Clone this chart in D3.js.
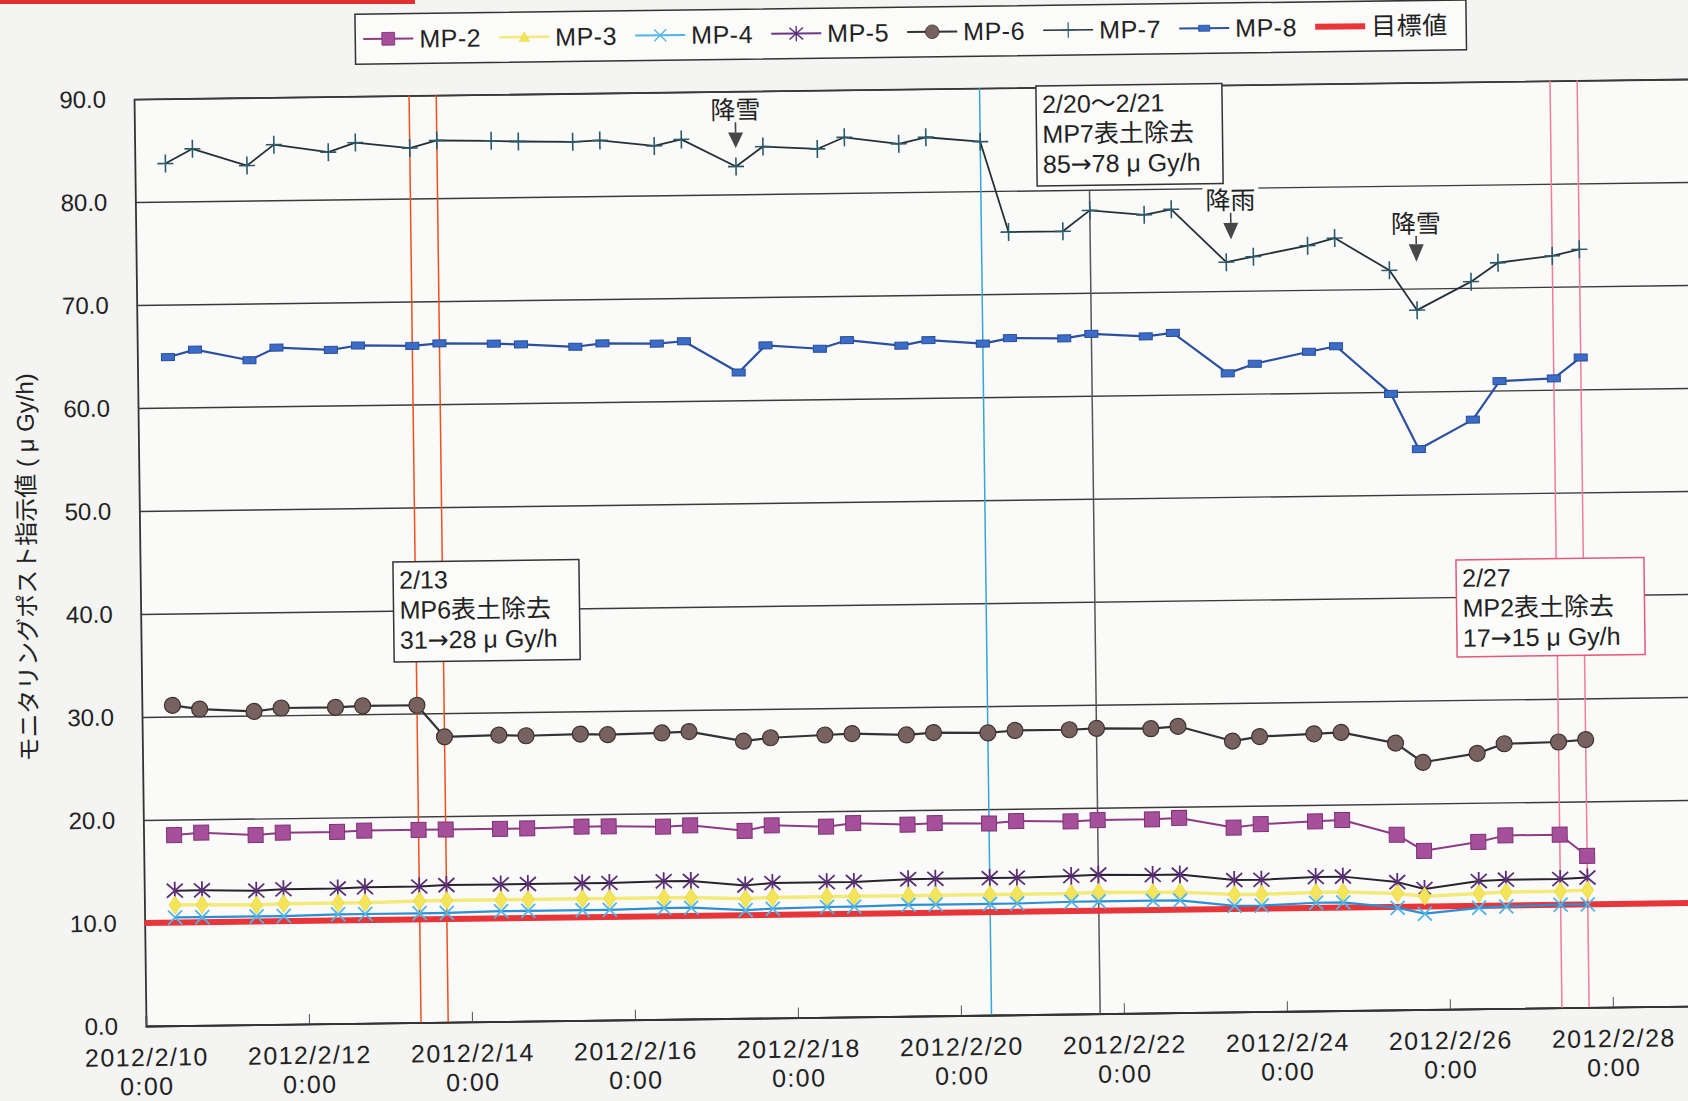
<!DOCTYPE html>
<html>
<head>
<meta charset="utf-8">
<script src="https://cdn.jsdelivr.net/npm/d3@7"></script>
<style>
  body { margin: 0; background: #f4f4f2; }
  text { font-family: "Liberation Sans", "Noto Sans CJK JP", sans-serif; fill: #222; }
</style>
</head>
<body>
<div id="viz"></div>
<script>
// measurement times (two readings a day)
const times = [
  "2012-02-10 09:00", "2012-02-10 17:00", "2012-02-11 09:00", "2012-02-11 17:00",
  "2012-02-12 09:00", "2012-02-12 17:00", "2012-02-13 09:00", "2012-02-13 17:00",
  "2012-02-14 09:00", "2012-02-14 17:00", "2012-02-15 09:00", "2012-02-15 17:00",
  "2012-02-16 09:00", "2012-02-16 17:00", "2012-02-17 09:00", "2012-02-17 17:00",
  "2012-02-18 09:00", "2012-02-18 17:00", "2012-02-19 09:00", "2012-02-19 17:00",
  "2012-02-20 09:00", "2012-02-20 17:00", "2012-02-21 09:00", "2012-02-21 17:00",
  "2012-02-22 09:00", "2012-02-22 17:00", "2012-02-23 09:00", "2012-02-23 17:00",
  "2012-02-24 09:00", "2012-02-24 17:00", "2012-02-25 09:00", "2012-02-25 17:00",
  "2012-02-26 09:00", "2012-02-26 17:00", "2012-02-27 09:00", "2012-02-27 17:00"
];

const mp2 = [18.5, 18.7, 18.4, 18.6, 18.6, 18.7, 18.7, 18.7, 18.7, 18.7, 18.8, 18.8,
             18.7, 18.8, 18.2, 18.7, 18.5, 18.8, 18.6, 18.7, 18.6, 18.8, 18.7, 18.8,
             18.8, 18.9, 17.9, 18.2, 18.4, 18.5, 17.0, 15.4, 16.2, 16.8, 16.8, 14.7];
const mp3 = [11.7, 11.7, 11.6, 11.7, 11.7, 11.7, 11.8, 11.8, 11.8, 11.8, 11.8, 11.8,
             11.8, 11.8, 11.6, 11.7, 11.7, 11.7, 11.7, 11.7, 11.7, 11.7, 11.7, 11.8,
             11.7, 11.7, 11.4, 11.4, 11.5, 11.5, 11.3, 11.0, 11.2, 11.3, 11.3, 11.4];
const mp4 = [10.5, 10.5, 10.5, 10.5, 10.6, 10.6, 10.6, 10.6, 10.7, 10.7, 10.7, 10.7,
             10.8, 10.8, 10.5, 10.6, 10.7, 10.7, 10.8, 10.8, 10.8, 10.8, 10.9, 10.9,
             10.9, 10.9, 10.3, 10.3, 10.5, 10.5, 9.9, 9.3, 9.8, 9.9, 10.0, 10.0];
const mp5 = [13.1, 13.1, 13.0, 13.1, 13.1, 13.2, 13.2, 13.3, 13.3, 13.3, 13.3, 13.3,
             13.4, 13.4, 12.9, 13.1, 13.1, 13.1, 13.3, 13.3, 13.3, 13.3, 13.4, 13.5,
             13.4, 13.4, 12.8, 12.8, 13.0, 13.0, 12.4, 11.7, 12.4, 12.5, 12.5, 12.6];
const mp6 = [31.1, 30.7, 30.4, 30.7, 30.7, 30.8, 30.8, 27.7, 27.8, 27.7, 27.8, 27.7,
             27.8, 27.9, 26.9, 27.2, 27.4, 27.5, 27.3, 27.5, 27.4, 27.6, 27.6, 27.7,
             27.6, 27.8, 26.3, 26.7, 26.9, 27.0, 25.9, 24.0, 24.8, 25.7, 25.8, 26.0];
const mp7 = [83.7, 85.1, 83.4, 85.4, 84.6, 85.5, 84.9, 85.6, 85.5, 85.4, 85.3, 85.4,
             84.8, 85.4, 82.7, 84.6, 84.3, 85.4, 84.7, 85.3, 84.8, 76.0, 76.0, 78.0,
             77.5, 78.0, 72.8, 73.3, 74.3, 75.0, 71.8, 67.9, 70.6, 72.4, 73.0, 73.6];
const mp8 = [64.9, 65.6, 64.5, 65.7, 65.4, 65.8, 65.7, 65.9, 65.8, 65.7, 65.4, 65.7,
             65.6, 65.8, 62.7, 65.3, 64.9, 65.7, 65.1, 65.6, 65.2, 65.7, 65.6, 66.0,
             65.7, 66.0, 62.0, 62.9, 64.0, 64.5, 59.8, 54.4, 57.2, 60.9, 61.1, 63.1];
const target = 10;

const yTicks = [0, 10, 20, 30, 40, 50, 60, 70, 80, 90];
const xTickDays = ["2012-02-10", "2012-02-12", "2012-02-14", "2012-02-16", "2012-02-18",
                   "2012-02-20", "2012-02-22", "2012-02-24", "2012-02-26", "2012-02-28"];

// event markers
const eventLines = [
  { t: "2012-02-13 09:00", color: "#f0501e" },
  { t: "2012-02-13 17:00", color: "#f0501e" },
  { t: "2012-02-20 09:00", color: "#35a6d6" },
  { t: "2012-02-21 17:00", color: "#555555", from: 80 },
  { t: "2012-02-27 09:00", color: "#f07c9c" },
  { t: "2012-02-27 17:00", color: "#f07c9c" }
];
const weatherNotes = [
  { t: "2012-02-17 09:00", label: "降雪", at: 88.2, tail: 87.0, base: 86.0, tip: 84.5, dx: 0 },
  { t: "2012-02-23 09:00", label: "降雨", at: 78.8, tail: 77.6, base: 76.6, tip: 75.0, dx: 5 },
  { t: "2012-02-25 17:00", label: "降雪", at: 76.3, tail: 75.1, base: 74.3, tip: 72.6, dx: 0 }
];
const boxNotes = [
  { t: "2012-02-13 02:28", v: 44.74, w: 186, h: 100, border: "#333",
    lines: ["2/13", "MP6表土除去", "31→28 μ Gy/h"] },
  { t: "2012-02-21 01:36", v: 90.14, w: 186, h: 100, border: "#333",
    lines: ["2/20～2/21", "MP7表土除去", "85→78 μ Gy/h"] },
  { t: "2012-02-26 03:29", v: 43.6, w: 188, h: 97, border: "#e4587a",
    lines: ["2/27", "MP2表土除去", "17→15 μ Gy/h"] }
];

document.addEventListener("DOMContentLoaded", () => {
  const width = 1688;
  const height = 1101;
  const parse = d3.timeParse("%Y-%m-%d %H:%M");
  const parseDay = d3.timeParse("%Y-%m-%d");
  const dates = times.map(parse);

  const svg = d3.select("#viz").append("svg")
    .attr("width", width)
    .attr("height", height);

  svg.append("rect").attr("width", width).attr("height", height).attr("fill", "#f4f4f2");
  // red rule at the top of the page
  svg.append("rect").attr("x", 0).attr("y", 0).attr("width", 415).attr("height", 4).attr("fill", "#e2302e");

  // the scan is tilted slightly
  const g = svg.append("g").attr("transform", "rotate(-0.74,146,1026)");

  const x = d3.scaleTime()
    .domain([new Date(2012, 1, 10), new Date(2012, 1, 29)])
    .range([146, 146 + 19 * 81.5]);
  const y = d3.scaleLinear().domain([0, 90]).range([1026, 99]);

  g.append("rect")
    .attr("x", 146).attr("y", y(90))
    .attr("width", 1600).attr("height", y(0) - y(90))
    .attr("fill", "#fafaf9");

  // y axis with grid
  const yAxis = g.append("g")
    .attr("transform", "translate(146,0)")
    .call(d3.axisLeft(y).tickValues(yTicks).tickFormat(d3.format(".1f"))
      .tickSize(-1600).tickPadding(28));
  yAxis.select(".domain").attr("stroke", "#333").attr("stroke-width", 1.8);
  yAxis.selectAll(".tick line").attr("stroke", "#3a3a3a").attr("stroke-width", 1.4);
  yAxis.selectAll(".tick text").attr("font-size", 24).attr("fill", "#222")
    .style("font-family", "'Liberation Sans', sans-serif");

  // x axis: date on one line, time under it
  const xAxis = g.append("g")
    .attr("transform", `translate(0,${y(0)})`)
    .call(d3.axisBottom(x).tickValues(xTickDays.map(parseDay))
      .tickFormat(d3.timeFormat("%Y/%-m/%-d")).tickSize(-10).tickPadding(0));
  xAxis.select(".domain").attr("stroke", "#333").attr("stroke-width", 1.8);
  xAxis.selectAll(".tick line").attr("stroke", "#555").attr("stroke-width", 1);
  xAxis.selectAll(".tick text")
    .attr("y", 40).attr("dy", null)
    .attr("font-size", 25).attr("fill", "#222").attr("letter-spacing", 1.4)
    .style("font-family", "'Liberation Sans', sans-serif");
  xAxis.selectAll(".tick").append("text")
    .attr("y", 69)
    .attr("text-anchor", "middle")
    .attr("font-size", 25).attr("fill", "#222").attr("letter-spacing", 1.4)
    .style("font-family", "'Liberation Sans', sans-serif")
    .text("0:00");

  g.append("text")
    .attr("transform", `translate(33,566) rotate(-90)`)
    .attr("text-anchor", "middle")
    .attr("dominant-baseline", "central")
    .attr("font-size", 24)
    .text("モニタリングポスト指示値 ( μ Gy/h)");

  // event vertical lines
  g.selectAll(".event")
    .data(eventLines)
    .enter()
    .append("line")
    .attr("x1", d => x(parse(d.t)))
    .attr("x2", d => x(parse(d.t)))
    .attr("y1", d => y(d.from || 90))
    .attr("y2", y(0))
    .attr("stroke", d => d.color)
    .attr("stroke-width", 1.5);

  // target value
  g.append("line")
    .attr("x1", 146).attr("x2", 1760)
    .attr("y1", y(target)).attr("y2", y(target))
    .attr("stroke", "#e8353a").attr("stroke-width", 6);

  // marker shapes
  const shapes = {
    square: { draw(c) { c.rect(-7.5, -7.5, 15, 15); } },
    diamond: { draw(c) { c.moveTo(0, -9); c.lineTo(6, 0); c.lineTo(0, 9); c.lineTo(-6, 0); c.closePath(); } },
    triangle: { draw(c) { c.moveTo(0, -6); c.lineTo(6, 5); c.lineTo(-6, 5); c.closePath(); } },
    cross: { draw(c) { c.moveTo(-7, -7); c.lineTo(7, 7); c.moveTo(-7, 7); c.lineTo(7, -7); } },
    star: { draw(c) { c.moveTo(-8, -7); c.lineTo(8, 7); c.moveTo(-8, 7); c.lineTo(8, -7); c.moveTo(0, -9); c.lineTo(0, 9); } },
    circle: { draw(c) { c.moveTo(8, 0); c.arc(0, 0, 8, 0, 2 * Math.PI); } },
    plus: { draw(c) { c.moveTo(-8, 0); c.lineTo(8, 0); c.moveTo(0, -9); c.lineTo(0, 9); } },
    flat: { draw(c) { c.rect(-6.5, -3.5, 13, 7); } }
  };

  const series = [
    { name: "MP-7", values: mp7, line: "#253038", lw: 1.8, shape: shapes.plus, fill: "none", stroke: "#2b5a6a", sw: 1.6 },
    { name: "MP-8", values: mp8, line: "#2c50a0", lw: 2.2, shape: shapes.flat, fill: "#3a6cc8", stroke: "#2a4c96", sw: 1 },
    { name: "MP-6", values: mp6, line: "#333333", lw: 2.2, shape: shapes.circle, fill: "#78625f", stroke: "#3d3232", sw: 1.2 },
    { name: "MP-2", values: mp2, line: "#8c3b84", lw: 2, shape: shapes.square, fill: "#a64f9b", stroke: "#7d3274", sw: 1 },
    { name: "MP-5", values: mp5, line: "#2b2230", lw: 2, shape: shapes.star, fill: "none", stroke: "#5b2e78", sw: 1.8 },
    { name: "MP-3", values: mp3, line: "#f3ea7a", lw: 3.5, shape: shapes.diamond, fill: "#f4e45a", stroke: "#e8d840", sw: 0.8 },
    { name: "MP-4", values: mp4, line: "#2c8ed6", lw: 2.2, shape: shapes.cross, fill: "none", stroke: "#52b5e6", sw: 1.8 }
  ];

  const line = d3.line().x((d, i) => x(dates[i])).y(d => y(d));

  series.forEach(s => {
    g.append("path")
      .attr("d", line(s.values))
      .attr("fill", "none")
      .attr("stroke", s.line)
      .attr("stroke-width", s.lw)
      .attr("stroke-linejoin", "round");
    g.selectAll(null)
      .data(s.values)
      .enter()
      .append("path")
      .attr("transform", (d, i) => `translate(${x(dates[i])},${y(d)})`)
      .attr("d", d3.symbol().type(s.shape)())
      .attr("fill", s.fill)
      .attr("stroke", s.stroke)
      .attr("stroke-width", s.sw);
  });

  // weather notes with arrows
  weatherNotes.forEach(n => {
    const cx = x(parse(n.t)) + n.dx;
    g.append("rect")
      .attr("x", cx - 28).attr("y", y(n.at) - 15)
      .attr("width", 56).attr("height", 30)
      .attr("fill", "#fafaf9");
    g.append("text")
      .attr("x", cx).attr("y", y(n.at))
      .attr("text-anchor", "middle")
      .attr("dominant-baseline", "central")
      .attr("font-size", 25)
      .text(n.label);
    g.append("line")
      .attr("x1", cx).attr("x2", cx)
      .attr("y1", y(n.tail)).attr("y2", y(n.base))
      .attr("stroke", "#444").attr("stroke-width", 1.6);
    g.append("path")
      .attr("d", `M${cx - 7.5},${y(n.base)}L${cx + 7.5},${y(n.base)}L${cx},${y(n.tip)}Z`)
      .attr("fill", "#474747");
  });

  // removal notes (one text block per box)
  boxNotes.forEach(b => {
    const bx = x(parse(b.t));
    const by = y(b.v);
    g.append("rect")
      .attr("x", bx).attr("y", by)
      .attr("width", b.w).attr("height", b.h)
      .attr("fill", "#fbfbfa")
      .attr("stroke", b.border)
      .attr("stroke-width", 1.5);
    const t = g.append("text").attr("font-size", 25);
    b.lines.forEach((l, i) => {
      const row = t.append("tspan").attr("x", bx + 6).attr("y", by + 27 + i * 30);
      l.split("→").forEach((part, k) => {
        if (k > 0) row.append("tspan").style("font-family", "'DejaVu Sans'").text("→");
        row.append("tspan").text(part);
      });
    });
  });

  // legend
  const legendItems = [
    { name: "MP-2", line: "#8c3b84", lw: 2, shape: shapes.square, fill: "#a64f9b", stroke: "#7d3274", sw: 1 },
    { name: "MP-3", line: "#f3ea7a", lw: 2.5, shape: shapes.triangle, fill: "#f4e45a", stroke: "#e8d840", sw: 0.8 },
    { name: "MP-4", line: "#52b5e6", lw: 2, shape: shapes.cross, fill: "none", stroke: "#52b5e6", sw: 1.6 },
    { name: "MP-5", line: "#6a3a86", lw: 2, shape: shapes.star, fill: "none", stroke: "#5b2e78", sw: 1.6 },
    { name: "MP-6", line: "#333333", lw: 2, shape: shapes.circle, fill: "#78625f", stroke: "#3d3232", sw: 1 },
    { name: "MP-7", line: "#253038", lw: 1.5, shape: shapes.plus, fill: "none", stroke: "#2b5a6a", sw: 1.4 },
    { name: "MP-8", line: "#2c50a0", lw: 2, shape: shapes.flat, fill: "#3a6cc8", stroke: "#2a4c96", sw: 1 },
    { name: "目標値", line: "#e8353a", lw: 6, shape: null }
  ];

  const legend = g.append("g").attr("transform", "translate(368,17)");
  legend.append("rect")
    .attr("width", 1111).attr("height", 50)
    .attr("fill", "#fbfbfa")
    .attr("stroke", "#333")
    .attr("stroke-width", 1.5);

  const item = legend.selectAll(".item")
    .data(legendItems)
    .enter()
    .append("g")
    .attr("transform", (d, i) => `translate(${8 + i * 136},25)`);
  item.append("line")
    .attr("x1", 0).attr("x2", 50)
    .attr("stroke", d => d.line)
    .attr("stroke-width", d => d.lw);
  item.filter(d => d.shape)
    .append("path")
    .attr("transform", "translate(25,0) scale(0.85)")
    .attr("d", d => d3.symbol().type(d.shape)())
    .attr("fill", d => d.fill)
    .attr("stroke", d => d.stroke)
    .attr("stroke-width", d => d.sw);
  item.append("text")
    .attr("x", 56)
    .attr("dominant-baseline", "central")
    .attr("font-size", 25)
    .attr("letter-spacing", 0.5)
    .text(d => d.name);
});
</script>
</body>
</html>
